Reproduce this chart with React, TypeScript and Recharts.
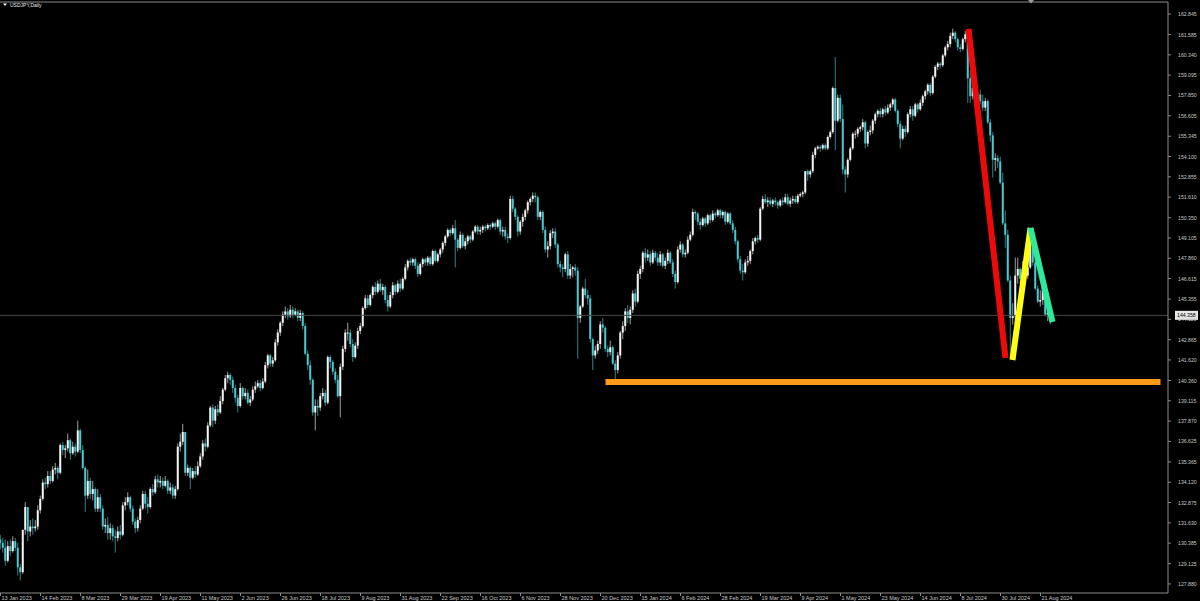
import React from 'react';
import { Bar, ComposedChart, ReferenceLine, XAxis, YAxis } from 'recharts';

// USDJPY daily candles, one value per bar (16 bars per date label)
const OPEN = [
  130.6, 130.4, 130.1, 129.3, 130.2, 129.9, 130.5, 130.1, 128.9, 128.6, 131.2, 132.6, 131.1, 131.4, 131.3, 131.4,
  132.4, 133.1, 134.1, 134.0, 134.5, 134.2, 134.9, 135.0, 134.7, 136.4, 136.1, 136.2, 136.7, 135.9, 136.3, 136.0,
  137.3, 136.1, 135.0, 133.3, 134.2, 133.4, 133.7, 132.5, 133.2, 132.5, 131.4, 131.5, 131.0, 131.3, 130.8, 130.7,
  131.1, 130.9, 132.7, 132.9, 133.2, 132.5, 131.7, 131.3, 131.8, 132.5, 133.4, 132.8, 132.6, 133.7, 133.5, 134.3,
  134.1, 134.2, 133.9, 134.2, 133.6, 133.8, 133.3, 133.7, 136.3, 136.6, 137.2, 134.7, 135.0, 134.4, 134.8, 134.6,
  135.1, 135.7, 136.5, 136.3, 137.6, 138.7, 137.9, 138.6, 138.4, 139.1, 139.8, 140.5, 140.7, 140.4, 139.9, 139.3,
  138.8, 139.9, 139.4, 139.6, 139.0, 139.2, 139.8, 140.0, 140.2, 139.9, 140.3, 141.3, 141.9, 141.4, 141.6, 142.7,
  143.3, 143.9, 144.4, 144.6, 144.3, 144.7, 144.4, 144.6, 144.2, 144.5, 143.7, 142.0, 141.3, 140.4, 138.4, 138.8,
  138.7, 139.4, 139.6, 139.0, 141.8, 141.5, 140.9, 140.4, 139.4, 141.2, 142.3, 143.3, 143.3, 142.6, 141.8, 142.5,
  143.4, 143.7, 144.8, 145.4, 145.0, 145.6, 146.1, 145.8, 146.3, 145.9, 146.1, 145.3, 144.9, 145.6, 146.2, 145.8,
  146.3, 146.0, 146.6, 147.3, 147.7, 147.6, 147.8, 147.4, 146.9, 147.5, 147.8, 147.6, 147.9, 147.5, 148.3, 147.7,
  148.1, 148.4, 148.8, 149.2, 149.6, 149.4, 149.7, 149.0, 148.5, 149.3, 148.6, 148.9, 149.2, 149.0, 149.5, 149.8,
  149.5, 149.6, 149.8, 149.7, 149.9, 149.8, 150.0, 149.8, 150.2, 149.5, 149.6, 149.2, 149.1, 151.5, 150.9, 150.4,
  149.5, 150.1, 150.4, 150.8, 151.3, 151.5, 151.7, 151.6, 150.4, 150.7, 149.6, 148.4, 148.6, 149.4, 149.5, 148.7,
  147.5, 147.3, 147.2, 148.1, 146.8, 147.2, 147.3, 147.1, 144.2, 144.9, 146.0, 145.6, 145.4, 142.9, 141.9, 142.2,
  142.6, 143.8, 143.6, 142.3, 142.1, 142.4, 141.4, 141.0, 141.9, 143.3, 143.7, 144.6, 144.2, 144.7, 145.7, 145.2,
  146.9, 147.2, 148.2, 147.9, 148.1, 147.6, 148.2, 147.9, 147.6, 148.1, 147.4, 147.7, 148.2, 147.6, 146.9, 146.4,
  148.4, 148.7, 148.1, 148.2, 149.0, 149.3, 150.7, 150.6, 150.1, 149.9, 150.3, 150.0, 150.5, 150.2, 150.6, 150.5,
  150.8, 150.5, 150.7, 150.1, 150.6, 150.0, 149.6, 148.9, 147.8, 147.1, 147.0, 147.6, 147.7, 148.3, 148.9, 149.1,
  149.0, 150.9, 151.5, 151.3, 151.4, 151.2, 151.4, 151.3, 151.1, 151.4, 151.3, 151.6, 151.2, 151.4, 151.5, 151.3,
  151.7, 151.8, 151.9, 153.2, 153.0, 153.2, 154.2, 154.6, 154.7, 154.6, 154.8, 154.6, 155.3, 155.6, 158.3, 156.3,
  157.7, 156.4, 153.3, 153.0, 153.9, 154.6, 155.5, 155.5, 155.8, 155.9, 156.2, 154.9, 155.6, 155.7, 156.3, 156.7,
  156.9, 156.7, 157.0, 156.8, 157.1, 157.3, 157.6, 156.9, 156.1, 155.2, 155.8, 155.6, 156.7, 157.0, 156.6, 157.3,
  157.0, 157.4, 157.8, 158.1, 158.5, 158.0, 159.0, 159.6, 159.8, 159.7, 160.3, 160.8, 161.0, 161.5, 161.7, 161.3,
  160.8, 160.7, 161.3, 161.6, 158.9, 157.8, 158.3, 157.6, 157.9, 157.5, 157.1, 157.5, 156.2, 155.4, 153.9, 154.0,
  153.8, 152.5, 150.0, 149.3, 146.5, 144.2, 144.3, 146.8, 147.2, 146.6, 147.2, 146.8, 147.3, 149.3, 147.6, 146.0,
  145.2, 145.3, 146.2, 144.4, 144.5,
];

const HIGH = [
  130.9, 130.7, 130.6, 130.5, 130.6, 130.8, 130.7, 130.4, 129.1, 131.2, 132.9, 132.6, 131.8, 131.9, 131.8, 132.7,
  133.3, 134.3, 134.4, 134.8, 134.8, 135.1, 135.3, 135.1, 136.5, 136.6, 136.4, 137.1, 136.8, 136.6, 136.5, 137.9,
  137.4, 136.4, 135.1, 134.9, 134.4, 134.2, 133.8, 133.7, 133.4, 132.7, 131.9, 132.0, 131.6, 131.5, 131.2, 131.4,
  131.5, 132.9, 133.2, 133.5, 133.3, 132.7, 131.9, 132.0, 132.7, 133.6, 133.6, 133.2, 133.8, 134.0, 134.5, 134.6,
  134.5, 134.4, 134.5, 134.3, 134.1, 134.0, 133.9, 136.5, 137.1, 137.7, 137.2, 135.2, 135.1, 135.0, 135.1, 135.4,
  135.9, 136.7, 136.8, 137.8, 138.8, 138.9, 138.8, 138.9, 139.4, 139.9, 140.7, 140.9, 140.8, 140.6, 140.1, 139.5,
  140.2, 140.0, 139.9, 139.8, 139.4, 140.0, 140.3, 140.4, 140.4, 140.5, 141.5, 142.0, 142.0, 141.8, 142.9, 143.5,
  144.0, 144.6, 144.9, 144.8, 145.0, 144.9, 144.8, 144.7, 144.7, 144.6, 143.9, 142.2, 141.6, 140.5, 139.2, 139.2,
  139.6, 139.9, 139.8, 141.9, 141.9, 141.6, 141.1, 140.7, 141.4, 142.5, 143.5, 143.9, 143.5, 142.9, 142.7, 143.6,
  143.9, 144.9, 145.6, 145.6, 145.7, 146.2, 146.4, 146.5, 146.6, 146.3, 146.2, 145.6, 145.8, 146.4, 146.3, 146.5,
  146.6, 146.7, 147.5, 147.8, 147.9, 147.9, 147.9, 147.6, 147.6, 147.9, 147.9, 148.0, 148.0, 148.4, 148.4, 148.2,
  148.5, 148.9, 149.3, 149.7, 149.7, 149.9, 150.2, 149.1, 149.5, 149.4, 149.1, 149.3, 149.3, 149.6, 149.9, 149.9,
  149.8, 149.9, 149.9, 150.0, 150.0, 150.1, 150.1, 150.3, 150.3, 149.8, 149.8, 149.4, 151.7, 151.7, 151.0, 150.5,
  150.2, 150.6, 150.9, 151.4, 151.6, 151.9, 151.9, 151.7, 150.8, 150.8, 149.8, 148.9, 149.6, 149.7, 149.7, 148.8,
  147.7, 147.5, 148.2, 148.3, 147.5, 147.4, 147.5, 147.3, 145.0, 146.1, 146.6, 145.9, 145.6, 143.0, 142.5, 142.8,
  144.0, 144.2, 143.7, 142.5, 142.8, 142.5, 141.6, 142.1, 143.4, 144.0, 144.8, 145.0, 144.9, 145.9, 146.0, 147.1,
  147.4, 148.3, 148.5, 148.4, 148.3, 148.4, 148.3, 148.2, 148.3, 148.2, 147.9, 148.4, 148.3, 147.8, 147.1, 148.6,
  148.9, 148.8, 148.4, 149.2, 149.5, 150.9, 150.8, 150.7, 150.3, 150.4, 150.4, 150.6, 150.6, 150.8, 150.7, 150.9,
  150.9, 150.8, 150.8, 150.7, 150.7, 150.2, 149.8, 149.0, 148.0, 147.5, 147.8, 148.0, 148.4, 149.1, 149.2, 149.3,
  151.0, 151.7, 151.8, 151.6, 151.6, 151.5, 151.6, 151.4, 151.5, 151.6, 151.8, 151.8, 151.6, 151.7, 151.7, 151.8,
  151.9, 152.0, 153.2, 153.3, 153.3, 154.4, 154.7, 154.8, 154.8, 154.9, 154.9, 155.4, 155.7, 158.4, 160.2, 157.9,
  157.9, 157.3, 153.5, 154.0, 154.7, 155.6, 155.7, 155.9, 156.0, 156.4, 156.3, 155.7, 156.0, 156.4, 156.8, 157.0,
  157.1, 157.1, 157.2, 157.3, 157.4, 157.7, 157.7, 157.0, 156.3, 156.0, 156.0, 156.8, 157.2, 157.2, 157.4, 157.4,
  157.6, 157.9, 158.2, 158.6, 158.6, 159.1, 159.7, 159.9, 159.9, 160.4, 160.9, 161.2, 161.7, 161.95, 161.8, 161.4,
  161.0, 161.4, 161.8, 161.8, 159.4, 158.9, 158.4, 158.0, 158.2, 157.9, 157.7, 157.6, 156.4, 155.6, 154.3, 154.2,
  154.1, 153.1, 150.8, 149.6, 146.8, 145.1, 147.9, 147.9, 147.3, 147.7, 147.6, 147.5, 149.4, 149.4, 147.8, 146.2,
  145.9, 146.4, 146.2, 144.7, 144.8,
];

const LOW = [
  130.0, 129.8, 129.0, 129.2, 129.6, 129.8, 129.9, 128.4, 128.1, 128.5, 130.9, 130.5, 130.8, 130.9, 131.1, 131.2,
  132.2, 133.0, 133.7, 133.8, 134.0, 134.1, 134.6, 134.3, 134.6, 135.8, 135.6, 136.0, 135.5, 135.8, 135.7, 135.9,
  135.9, 134.9, 132.3, 133.1, 133.1, 133.0, 132.3, 132.3, 132.3, 131.2, 131.0, 130.6, 130.6, 130.5, 129.8, 130.5,
  130.6, 130.8, 132.4, 132.7, 132.3, 131.5, 131.0, 131.1, 131.6, 132.4, 132.5, 132.2, 132.5, 133.3, 133.4, 133.8,
  133.8, 133.7, 133.8, 133.4, 133.4, 133.1, 133.1, 133.6, 136.0, 136.4, 134.5, 134.5, 133.7, 134.3, 134.4, 134.5,
  135.0, 135.5, 136.0, 136.2, 137.5, 137.5, 137.7, 138.2, 138.3, 138.9, 139.7, 140.2, 140.1, 139.6, 139.0, 138.4,
  138.7, 139.2, 139.2, 138.9, 138.8, 139.1, 139.6, 139.9, 139.7, 139.8, 140.2, 141.1, 141.2, 141.2, 141.5, 142.5,
  143.1, 143.7, 144.2, 144.1, 144.2, 144.2, 144.3, 144.0, 144.0, 143.5, 141.9, 141.0, 140.1, 138.2, 137.3, 138.2,
  138.5, 139.2, 138.8, 138.9, 141.1, 140.7, 140.2, 139.3, 138.1, 141.0, 142.1, 142.8, 142.4, 141.5, 141.7, 142.3,
  143.2, 143.6, 144.7, 144.8, 144.9, 145.4, 145.6, 145.7, 145.8, 145.6, 145.1, 144.6, 144.8, 145.4, 145.6, 145.7,
  145.8, 145.9, 146.5, 147.1, 147.4, 147.4, 147.2, 146.7, 146.8, 147.3, 147.4, 147.4, 147.4, 147.4, 147.6, 147.6,
  147.9, 148.2, 148.6, 149.1, 149.2, 149.3, 147.3, 148.3, 148.4, 148.5, 148.4, 148.7, 148.8, 148.9, 149.4, 149.3,
  149.3, 149.4, 149.5, 149.6, 149.6, 149.7, 149.6, 149.7, 149.3, 149.2, 149.0, 148.8, 149.0, 150.7, 150.2, 149.2,
  149.3, 149.8, 150.2, 150.6, 151.1, 151.3, 151.3, 150.2, 150.2, 149.4, 148.2, 147.9, 148.4, 149.1, 148.5, 147.3,
  147.0, 146.7, 147.0, 146.6, 146.6, 146.7, 146.8, 141.7, 143.9, 144.8, 145.4, 145.0, 142.7, 141.0, 141.7, 142.0,
  142.3, 143.3, 142.1, 141.8, 141.9, 141.3, 140.3, 140.8, 141.7, 142.9, 143.4, 143.9, 143.8, 144.5, 144.9, 145.1,
  146.6, 147.0, 147.6, 147.7, 147.4, 147.5, 147.7, 147.4, 147.4, 147.3, 147.2, 147.5, 147.5, 146.7, 146.0, 146.3,
  148.2, 147.9, 147.9, 148.1, 148.9, 149.2, 150.2, 149.9, 149.6, 149.8, 149.8, 149.9, 150.0, 150.1, 150.3, 150.4,
  150.3, 150.3, 149.9, 150.0, 149.9, 149.4, 148.7, 147.6, 146.9, 146.5, 146.9, 147.4, 147.5, 148.1, 148.7, 148.8,
  148.9, 150.8, 151.2, 151.0, 151.1, 151.0, 151.1, 150.9, 151.0, 151.1, 151.2, 151.1, 151.0, 151.2, 151.2, 151.2,
  151.6, 151.6, 151.8, 152.6, 152.8, 153.1, 154.0, 154.5, 154.4, 154.5, 154.5, 154.5, 155.2, 155.5, 154.5, 156.2,
  156.2, 153.0, 151.9, 152.8, 153.8, 154.5, 155.2, 155.3, 155.6, 155.7, 154.6, 154.7, 155.4, 155.5, 156.1, 156.5,
  156.5, 156.5, 156.6, 156.7, 156.9, 157.1, 156.8, 155.9, 154.6, 155.1, 155.3, 155.5, 156.5, 156.3, 156.5, 156.8,
  156.9, 157.2, 157.6, 157.9, 157.8, 157.9, 158.9, 159.4, 159.5, 159.6, 160.2, 160.6, 160.8, 161.3, 161.1, 160.6,
  160.5, 160.6, 161.1, 157.4, 157.4, 157.6, 157.2, 157.2, 157.3, 156.9, 156.9, 156.1, 155.0, 152.8, 153.2, 153.4,
  152.4, 149.9, 148.5, 146.4, 141.7, 143.8, 143.8, 146.3, 146.3, 146.5, 146.6, 146.6, 147.2, 147.4, 145.9, 145.1,
  144.9, 145.0, 144.3, 144.0, 143.8,
];

const CLOSE = [
  130.4, 130.1, 129.3, 130.2, 129.9, 130.5, 130.1, 128.9, 128.6, 131.2, 132.6, 131.1, 131.4, 131.3, 131.4, 132.4,
  133.1, 134.1, 134.0, 134.5, 134.2, 134.9, 135.0, 134.7, 136.4, 136.1, 136.2, 136.7, 135.9, 136.3, 136.0, 137.3,
  136.1, 135.0, 133.3, 134.2, 133.4, 133.7, 132.5, 133.2, 132.5, 131.4, 131.5, 131.0, 131.3, 130.8, 130.7, 131.1,
  130.9, 132.7, 132.9, 133.2, 132.5, 131.7, 131.3, 131.8, 132.5, 133.4, 132.8, 132.6, 133.7, 133.5, 134.3, 134.1,
  134.2, 133.9, 134.2, 133.6, 133.8, 133.3, 133.7, 136.3, 136.6, 137.2, 134.7, 135.0, 134.4, 134.8, 134.6, 135.1,
  135.7, 136.5, 136.3, 137.6, 138.7, 137.9, 138.6, 138.4, 139.1, 139.8, 140.5, 140.7, 140.4, 139.9, 139.3, 138.8,
  139.9, 139.4, 139.6, 139.0, 139.2, 139.8, 140.0, 140.2, 139.9, 140.3, 141.3, 141.9, 141.4, 141.6, 142.7, 143.3,
  143.9, 144.4, 144.6, 144.3, 144.7, 144.4, 144.6, 144.2, 144.5, 143.7, 142.0, 141.3, 140.4, 138.4, 138.8, 138.7,
  139.4, 139.6, 139.0, 141.8, 141.5, 140.9, 140.4, 139.4, 141.2, 142.3, 143.3, 143.3, 142.6, 141.8, 142.5, 143.4,
  143.7, 144.8, 145.4, 145.0, 145.6, 146.1, 145.8, 146.3, 145.9, 146.1, 145.3, 144.9, 145.6, 146.2, 145.8, 146.3,
  146.0, 146.6, 147.3, 147.7, 147.6, 147.8, 147.4, 146.9, 147.5, 147.8, 147.6, 147.9, 147.5, 148.3, 147.7, 148.1,
  148.4, 148.8, 149.2, 149.6, 149.4, 149.7, 149.0, 148.5, 149.3, 148.6, 148.9, 149.2, 149.0, 149.5, 149.8, 149.5,
  149.6, 149.8, 149.7, 149.9, 149.8, 150.0, 149.8, 150.2, 149.5, 149.6, 149.2, 149.1, 151.5, 150.9, 150.4, 149.5,
  150.1, 150.4, 150.8, 151.3, 151.5, 151.7, 151.6, 150.4, 150.7, 149.6, 148.4, 148.6, 149.4, 149.5, 148.7, 147.5,
  147.3, 147.2, 148.1, 146.8, 147.2, 147.3, 147.1, 144.2, 144.9, 146.0, 145.6, 145.4, 142.9, 141.9, 142.2, 142.6,
  143.8, 143.6, 142.3, 142.1, 142.4, 141.4, 141.0, 141.9, 143.3, 143.7, 144.6, 144.2, 144.7, 145.7, 145.2, 146.9,
  147.2, 148.2, 147.9, 148.1, 147.6, 148.2, 147.9, 147.6, 148.1, 147.4, 147.7, 148.2, 147.6, 146.9, 146.4, 148.4,
  148.7, 148.1, 148.2, 149.0, 149.3, 150.7, 150.6, 150.1, 149.9, 150.3, 150.0, 150.5, 150.2, 150.6, 150.5, 150.8,
  150.5, 150.7, 150.1, 150.6, 150.0, 149.6, 148.9, 147.8, 147.1, 147.0, 147.6, 147.7, 148.3, 148.9, 149.1, 149.0,
  150.9, 151.5, 151.3, 151.4, 151.2, 151.4, 151.3, 151.1, 151.4, 151.3, 151.6, 151.2, 151.4, 151.5, 151.3, 151.7,
  151.8, 151.9, 153.2, 153.0, 153.2, 154.2, 154.6, 154.7, 154.6, 154.8, 154.6, 155.3, 155.6, 158.3, 156.3, 157.7,
  156.4, 153.3, 153.0, 153.9, 154.6, 155.5, 155.5, 155.8, 155.9, 156.2, 154.9, 155.6, 155.7, 156.3, 156.7, 156.9,
  156.7, 157.0, 156.8, 157.1, 157.3, 157.6, 156.9, 156.1, 155.2, 155.8, 155.6, 156.7, 157.0, 156.6, 157.3, 157.0,
  157.4, 157.8, 158.1, 158.5, 158.0, 159.0, 159.6, 159.8, 159.7, 160.3, 160.8, 161.0, 161.5, 161.7, 161.3, 160.8,
  160.7, 161.3, 161.6, 158.9, 157.8, 158.3, 157.6, 157.9, 157.5, 157.1, 157.5, 156.2, 155.4, 153.9, 154.0, 153.8,
  152.5, 150.0, 149.3, 146.5, 144.2, 144.3, 146.8, 147.2, 146.6, 147.2, 146.8, 147.3, 149.3, 147.6, 146.0, 145.2,
  145.3, 146.2, 144.4, 144.5, 144.358,
];

const DATE_LABELS = [
  '13 Jan 2023', '14 Feb 2023', '8 Mar 2023', '29 Mar 2023', '19 Apr 2023', '11 May 2023', '2 Jun 2023',
  '26 Jun 2023', '18 Jul 2023', '9 Aug 2023', '31 Aug 2023', '22 Sep 2023', '16 Oct 2023', '6 Nov 2023',
  '28 Nov 2023', '20 Dec 2023', '15 Jan 2024', '6 Feb 2024', '28 Feb 2024', '19 Mar 2024', '9 Apr 2024',
  '1 May 2024', '23 May 2024', '14 Jun 2024', '8 Jul 2024', '30 Jul 2024', '21 Aug 2024',
];
const DATE_TICKS = DATE_LABELS.map((_, k) => k * 16);

const PRICE_TICKS = [
  162.845, 161.585, 160.34, 159.095, 157.85, 156.605, 155.345, 154.1, 152.855, 151.61, 150.35, 149.105,
  147.86, 146.615, 145.355, 144.11, 142.865, 141.62, 140.36, 139.115, 137.87, 136.625, 135.365, 134.12,
  132.875, 131.63, 130.385, 129.125, 127.88,
];
const Y_MIN = 127.324;
const Y_MAX = 163.581;
const LAST_PRICE = 144.358;

// hand-drawn annotations (bar index, price)
const RED_LEG = [{ x: 387.2, y: 161.93 }, { x: 402, y: 141.74 }];
const YELLOW_LEG = [{ x: 404.8, y: 141.62 }, { x: 412, y: 149.72 }];
const GREEN_LEG = [{ x: 412, y: 149.72 }, { x: 420.8, y: 143.95 }];
const SUPPORT = [{ x: 242, y: 140.27 }, { x: 464, y: 140.27 }];

const UP = '#f4f4f4';
const DOWN = '#4cc8d0';
const AXIS = '#8c8c8c';
const LABEL = '#c8c8c8';
const FONT = '"Liberation Sans", Arial, sans-serif';

const candles = CLOSE.map((close, i) => ({
  i,
  open: OPEN[i],
  high: HIGH[i],
  low: LOW[i],
  close,
  range: [LOW[i], HIGH[i]],
}));

function Candle(props: any) {
  const { x, y, width, height, payload } = props;
  if (!payload || x == null) return null;
  const { open, close, high, low } = payload;
  const span = high - low || 1;
  const py = (p: number) => y + ((high - p) / span) * height;
  const cx = x + width / 2;
  const color = close >= open ? UP : DOWN;
  const a = py(Math.max(open, close));
  const b = py(Math.min(open, close));
  const top = Math.min(a, b);
  const h = Math.max(Math.abs(b - a), 1);
  return (
    <g>
      <line x1={cx} x2={cx} y1={py(high)} y2={py(low)} stroke={color} strokeOpacity={0.65} strokeWidth={1} />
      <rect x={cx - 1} y={top} width={2} height={h} fill={color} />
    </g>
  );
}

function DateTick({ x, y, payload }: any) {
  const k = DATE_TICKS.indexOf(payload.value);
  return (
    <g>
      <line x1={x} x2={x} y1={y} y2={y + 3} stroke={AXIS} />
      <text x={x + 1} y={y + 7} fill={LABEL} fontSize={5.5} fontFamily={FONT} textAnchor="start">
        {DATE_LABELS[k]}
      </text>
    </g>
  );
}

function PriceTick({ x, y, payload }: any) {
  return (
    <g>
      <line x1={x} x2={x + 3} y1={y} y2={y} stroke={AXIS} />
      <text x={x + 10} y={y + 2} fill={LABEL} fontSize={5.2} fontFamily={FONT} textAnchor="start">
        {Number(payload.value).toFixed(3)}
      </text>
    </g>
  );
}

function PriceTag({ viewBox }: any) {
  if (!viewBox) return null;
  const x = viewBox.x + viewBox.width;
  const y = viewBox.y;
  return (
    <g>
      <rect x={x + 7} y={y - 4.5} width={23} height={9} fill="#e8e8e8" />
      <text x={x + 9} y={y + 2} fill="#000" fontSize={5.2} fontFamily={FONT}>
        {LAST_PRICE.toFixed(3)}
      </text>
    </g>
  );
}

export default function App() {
  return (
    <div style={{ position: 'absolute', left: 0, top: 0, width: 1200, height: 601, background: '#000', overflow: 'hidden' }}>
      <ComposedChart width={1200} height={601} data={candles} margin={{ top: 2, right: 0, bottom: 0, left: 0 }}>
        <XAxis
          type="number"
          dataKey="i"
          domain={[-0.2, 467]}
          allowDataOverflow
          ticks={DATE_TICKS}
          interval={0}
          height={8}
          tickSize={0}
          tickMargin={0}
          tickLine={false}
          stroke={AXIS}
          tick={<DateTick />}
        />
        <YAxis
          orientation="right"
          domain={[Y_MIN, Y_MAX]}
          allowDataOverflow
          ticks={PRICE_TICKS}
          interval={0}
          width={32}
          tickSize={0}
          tickMargin={0}
          tickLine={false}
          stroke={AXIS}
          tick={<PriceTick />}
        />
        <ReferenceLine y={Y_MAX} stroke={AXIS} />
        <ReferenceLine y={LAST_PRICE} stroke="#4a4a4a" strokeWidth={1} label={<PriceTag />} />
        <Bar dataKey="range" barSize={2} shape={<Candle />} isAnimationActive={false} />
        <ReferenceLine segment={SUPPORT} stroke="#ff9a1a" strokeWidth={6} />
        <ReferenceLine segment={RED_LEG} stroke="#ee0a0a" strokeWidth={6} />
        <ReferenceLine segment={YELLOW_LEG} stroke="#ffff14" strokeWidth={6} />
        <ReferenceLine segment={GREEN_LEG} stroke="#2ee89c" strokeWidth={6} />
      </ComposedChart>
      <svg width={60} height={10} style={{ position: 'absolute', left: 0, top: 0 }}>
        <polygon points="3,3.5 7,3.5 5,6" fill="#fff" />
        <text x={10} y={7} fill="#e6e6e6" fontSize={5} fontFamily={FONT}>
          USDJPY,Daily
        </text>
      </svg>
      <svg width={8} height={5} style={{ position: 'absolute', left: 1027, top: 0 }}>
        <polygon points="1,0 7,0 4,3.5" fill="#9a9a9a" />
      </svg>
    </div>
  );
}
